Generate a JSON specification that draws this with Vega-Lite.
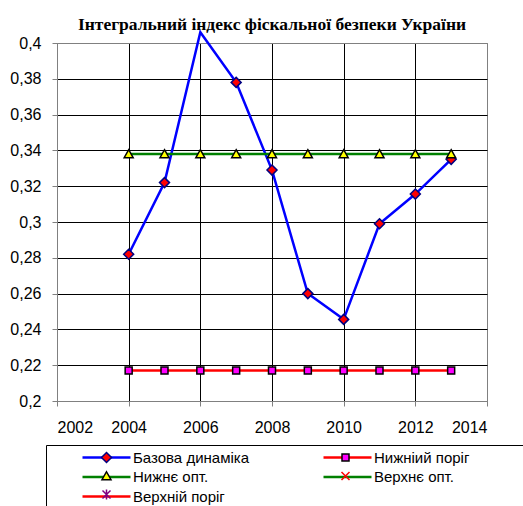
{
  "$schema": "https://vega.github.io/schema/vega-lite/v6.json",
  "width": 430,
  "height": 358,
  "autosize": "none",
  "padding": {"left": 57, "top": 43, "right": 36, "bottom": 105},
  "background": "white",
  "title": {
    "text": "Інтегральний індекс фіскальної безпеки України",
    "font": "Liberation Serif",
    "fontSize": 17.5,
    "fontWeight": "bold",
    "color": "black",
    "anchor": "middle",
    "frame": "group",
    "offset": -6
  },
  "data": {
    "values": [
      {"year": 2004, "value": 0.282, "series": "Базова динаміка"},
      {"year": 2005, "value": 0.322, "series": "Базова динаміка"},
      {"year": 2006, "value": 0.406, "series": "Базова динаміка"},
      {"year": 2007, "value": 0.378, "series": "Базова динаміка"},
      {"year": 2008, "value": 0.329, "series": "Базова динаміка"},
      {"year": 2009, "value": 0.260, "series": "Базова динаміка"},
      {"year": 2010, "value": 0.2456, "series": "Базова динаміка"},
      {"year": 2011, "value": 0.299, "series": "Базова динаміка"},
      {"year": 2012, "value": 0.3156, "series": "Базова динаміка"},
      {"year": 2013, "value": 0.335, "series": "Базова динаміка"},
      {"year": 2004, "value": 0.217, "series": "Нижніий поріг"},
      {"year": 2005, "value": 0.217, "series": "Нижніий поріг"},
      {"year": 2006, "value": 0.217, "series": "Нижніий поріг"},
      {"year": 2007, "value": 0.217, "series": "Нижніий поріг"},
      {"year": 2008, "value": 0.217, "series": "Нижніий поріг"},
      {"year": 2009, "value": 0.217, "series": "Нижніий поріг"},
      {"year": 2010, "value": 0.217, "series": "Нижніий поріг"},
      {"year": 2011, "value": 0.217, "series": "Нижніий поріг"},
      {"year": 2012, "value": 0.217, "series": "Нижніий поріг"},
      {"year": 2013, "value": 0.217, "series": "Нижніий поріг"},
      {"year": 2004, "value": 0.338, "series": "Нижнє опт."},
      {"year": 2005, "value": 0.338, "series": "Нижнє опт."},
      {"year": 2006, "value": 0.338, "series": "Нижнє опт."},
      {"year": 2007, "value": 0.338, "series": "Нижнє опт."},
      {"year": 2008, "value": 0.338, "series": "Нижнє опт."},
      {"year": 2009, "value": 0.338, "series": "Нижнє опт."},
      {"year": 2010, "value": 0.338, "series": "Нижнє опт."},
      {"year": 2011, "value": 0.338, "series": "Нижнє опт."},
      {"year": 2012, "value": 0.338, "series": "Нижнє опт."},
      {"year": 2013, "value": 0.338, "series": "Нижнє опт."}
    ]
  },
  "config": {
    "view": {"stroke": "#808080", "strokeWidth": 1},
    "axis": {
      "labelFont": "Liberation Sans",
      "labelFontSize": 16,
      "labelColor": "black",
      "labelOverlap": false,
      "domainColor": "#808080",
      "tickColor": "#808080",
      "tickSize": 5,
      "grid": true,
      "gridOpacity": 1,
      "gridWidth": 1,
      "title": null
    },
    "legend": {
      "orient": "none",
      "legendX": -11,
      "legendY": 402,
      "columns": 2,
      "symbolSize": 100,
      "symbolOffset": 48,
      "labelFont": "Liberation Sans",
      "labelFontSize": 15,
      "labelColor": "black",
      "labelOffset": 19,
      "labelLimit": 400,
      "padding": 5,
      "columnPadding": 9
    }
  },
  "resolve": {
    "legend": {"color": "independent", "fill": "independent", "stroke": "independent", "shape": "independent"}
  },
  "layer": [
    {
      "mark": {"type": "line", "strokeWidth": 2.5, "clip": false},
      "encoding": {
        "x": {
          "field": "year",
          "type": "quantitative",
          "scale": {"domain": [2002, 2014], "nice": false, "zero": false},
          "axis": {
            "values": [2002, 2004, 2006, 2008, 2010, 2012, 2014],
            "tickCount": 7,
            "format": "d",
            "labelPadding": 13,
            "gridColor": {"condition": {"test": "datum.value == 2002 || datum.value == 2014", "value": "#808080"}, "value": "#000000"}
          }
        },
        "y": {
          "field": "value",
          "type": "quantitative",
          "scale": {"domain": [0.2, 0.4], "nice": false, "zero": false},
          "axis": {
            "values": [0.2, 0.22, 0.24, 0.26, 0.28, 0.3, 0.32, 0.34, 0.36, 0.38, 0.4],
            "tickCount": 11,
            "labelExpr": "replace(format(datum.value, '.2~f'), '.', ',')",
            "labelPadding": 11,
            "gridColor": {"condition": {"test": "datum.value < 0.201 || datum.value > 0.399", "value": "#808080"}, "value": "#000000"}
          }
        },
        "color": {
          "field": "series",
          "type": "nominal",
          "scale": {
            "domain": ["Базова динаміка", "Нижнє опт.", "Верхній поріг", "Нижніий поріг", "Верхнє опт."],
            "range": ["#0000FF", "#008000", "#FF0000", "#FF0000", "#008000"]
          },
          "legend": {
            "title": null,
            "symbolType": "M34.2,0M-4.8,-1.1M4.8,1.1M-4.8,0H4.8",
            "symbolStrokeWidth": 2.5,
            "symbolFillColor": "transparent",
            "rowPadding": -1.5,
            "strokeColor": "#000000",
            "fillColor": "white"
          }
        }
      }
    },
    {
      "transform": [{"filter": "datum.value <= 0.4"}],
      "mark": {"type": "point", "size": 100, "strokeWidth": 1.5, "opacity": 1},
      "encoding": {
        "x": {"field": "year", "type": "quantitative"},
        "y": {"field": "value", "type": "quantitative"},
        "shape": {
          "field": "series",
          "type": "nominal",
          "scale": {
            "domain": ["Базова динаміка", "Нижнє опт.", "Верхній поріг", "Нижніий поріг", "Верхнє опт."],
            "range": [
              "M34.2,0M-4.8,-1.1M4.8,1.1M0,-1L1,0L0,1L-1,0Z",
              "M34.2,0M-4.8,-1.1M4.8,1.1M0,-0.85L0.9,0.75H-0.9Z",
              "M34.2,0M-4.8,-1.1M4.8,1.1M-0.8,-0.8L0.8,0.8M0.8,-0.8L-0.8,0.8M0,-1V1",
              "M34.2,0M-4.8,-1.1M4.8,1.1M-0.7,-0.7H0.7V0.7H-0.7Z",
              "M34.2,0M-4.8,-1.1M4.8,1.1M-0.8,-0.8L0.8,0.8M0.8,-0.8L-0.8,0.8"
            ]
          },
          "legend": {
            "title": null,
            "symbolStrokeWidth": 1.5,
            "symbolFillColor": "white",
            "rowPadding": 1.5,
            "labelOpacity": 0
          }
        },
        "fill": {
          "field": "series",
          "type": "nominal",
          "scale": {
            "domain": ["Базова динаміка", "Нижнє опт.", "Верхній поріг", "Нижніий поріг", "Верхнє опт."],
            "range": ["#FF0000", "#FFFF00", "#800080", "#FF00FF", "transparent"]
          },
          "legend": {
            "title": null,
            "symbolStrokeWidth": 1.5,
            "symbolFillColor": "white",
            "rowPadding": 1.5,
            "labelOpacity": 0
          }
        },
        "stroke": {
          "field": "series",
          "type": "nominal",
          "scale": {
            "domain": ["Базова динаміка", "Нижнє опт.", "Верхній поріг", "Нижніий поріг", "Верхнє опт."],
            "range": ["#000080", "#000000", "#800080", "#000000", "#FF0000"]
          },
          "legend": {
            "title": null,
            "symbolStrokeWidth": 1.5,
            "symbolFillColor": "white",
            "rowPadding": 1.5,
            "labelOpacity": 0
          }
        }
      }
    }
  ]
}
